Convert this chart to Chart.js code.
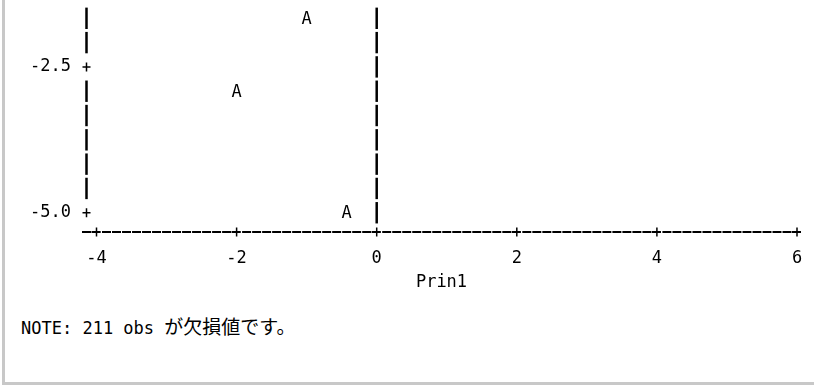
<!DOCTYPE html>
<html>
<head>
<meta charset="utf-8">
<script src="https://cdn.jsdelivr.net/npm/chart.js@4"></script>
<style>
  html, body { margin: 0; padding: 0; background: #fff; }
  #page { position: relative; width: 814px; height: 385px; overflow: hidden; }
  #plot { position: absolute; left: 0; top: 0; width: 814px; height: 300px; }
  #note {
    position: absolute; left: 21px; top: 317px;
    font: 17px/20px "DejaVu Sans Mono", "Noto Sans CJK JP", monospace;
    color: #000; white-space: pre;
  }
  #note .jp { font-size: 19px; }
  .edge { position: absolute; background: #c8c8c8; }
</style>
</head>
<body>
<div id="page">
  <div id="plot"><canvas id="chartPrin"></canvas></div>
  <div id="note">NOTE: 211 obs <span class="jp">が欠損値です。</span></div>
  <div class="edge" style="left:2px;top:0;width:3px;height:385px"></div>
  <div class="edge" style="left:2px;top:382px;width:812px;height:3px"></div>
</div>
<script>
// data
const prin1 = [-1.0, -2.0, -0.43];
const prin2 = [-1.67, -2.92, -5.0];
const plotSymbol = 'A';

const xTicks = [-4, -2, 0, 2, 4, 6];
const yTicks = [-2.5, -5.0];
const yTickLabels = ['-2.5', '-5.0'];
const xTitle = 'Prin1';
const refLineX = 0;

const ctx = document.getElementById('chartPrin');

Chart.defaults.font.family = '"DejaVu Sans Mono", "Noto Sans CJK JP", monospace';
Chart.defaults.font.size = 17;
Chart.defaults.color = '#000';

// draws the character-style axes: '|' rows, '-' columns and '+' ticks
const printerAxes = {
  id: 'printerAxes',
  afterDraw(chart) {
    const { ctx, chartArea: a, scales: { x, y } } = chart;
    const rowStep = (yTicks[0] - yTicks[1]) / 6;
    const rowH = y.getPixelForValue(yTicks[1]) - y.getPixelForValue(yTicks[1] + rowStep);
    const colW = (x.getPixelForValue(xTicks[1]) - x.getPixelForValue(xTicks[0])) / 14;
    const axisX = x.getPixelForValue(xTicks[0]) - colW;
    const x0 = x.getPixelForValue(refLineX);

    ctx.save();
    ctx.strokeStyle = '#000';
    ctx.setLineDash([]);

    const plus = (px, py) => {
      ctx.lineWidth = 1.5;
      ctx.beginPath();
      ctx.moveTo(px - 4, py); ctx.lineTo(px + 4, py);
      ctx.moveTo(px, py - 4.5); ctx.lineTo(px, py + 4.5);
      ctx.stroke();
    };
    const bar = (px, py) => {
      ctx.lineWidth = 2.5;
      ctx.beginPath();
      ctx.moveTo(px, py - rowH * 0.44); ctx.lineTo(px, py + rowH * 0.44);
      ctx.stroke();
    };

    // rows from the lowest tick up to the top of the plot
    for (let k = 0; k <= 8; k++) {
      const v = yTicks[1] + k * rowStep;
      const py = y.getPixelForValue(v);
      const isTick = yTicks.some(t => Math.abs(t - v) < 1e-6);
      if (isTick) plus(axisX, py); else bar(axisX, py);
      bar(x0, py);
    }

    // horizontal axis
    const hy = a.bottom;
    for (let j = -1; j <= 70; j++) {
      const px = x.getPixelForValue(xTicks[0]) + j * colW;
      if (px > a.right + 2) break;
      ctx.lineWidth = 2;
      ctx.beginPath();
      if (j >= 0 && j % 14 === 0) {
        ctx.moveTo(px - 5, hy); ctx.lineTo(px + 4, hy); ctx.stroke();
        plus(px, hy);
      } else {
        ctx.moveTo(px - 4.5, hy); ctx.lineTo(px + 4.5, hy); ctx.stroke();
      }
    }
    ctx.restore();
  }
};

// plot symbol at each point
const symbolPoints = {
  id: 'symbolPoints',
  afterDatasetsDraw(chart) {
    const { ctx } = chart;
    ctx.save();
    ctx.font = '17px "DejaVu Sans Mono", monospace';
    ctx.fillStyle = '#000';
    ctx.textAlign = 'center';
    ctx.textBaseline = 'middle';
    chart.getDatasetMeta(0).data.forEach(el => {
      ctx.fillText(plotSymbol, el.x, el.y + 1);
    });
    ctx.restore();
  }
};

new Chart(ctx, {
  type: 'scatter',
  data: {
    datasets: [{
      label: 'Prin2',
      data: prin1.map((v, i) => ({ x: v, y: prin2[i] })),
      pointRadius: 0,
      pointHoverRadius: 0,
      showLine: false
    }]
  },
  options: {
    responsive: true,
    maintainAspectRatio: false,
    animation: false,
    events: [],
    layout: { padding: { top: 8, right: 17, left: 0, bottom: 0 } },
    plugins: {
      legend: { display: false },
      tooltip: { enabled: false }
    },
    scales: {
      x: {
        type: 'linear',
        min: -4.15,
        max: 6,
        afterBuildTicks: s => { s.ticks = xTicks.map(v => ({ value: v })); },
        afterFit: s => { s.height = 68; s.paddingLeft = 0; s.paddingRight = 0; },
        ticks: { padding: 16, maxRotation: 0, autoSkip: false, callback: v => String(v) },
        grid: { display: false, drawTicks: false },
        border: { display: false },
        title: { display: true, text: xTitle, padding: { top: 4, bottom: 7 } }
      },
      y: {
        type: 'linear',
        min: -5.33,
        max: -1.49,
        afterBuildTicks: s => { s.ticks = yTicks.map(v => ({ value: v })); },
        afterFit: s => { s.width = 86; s.paddingTop = 0; s.paddingBottom = 0; },
        ticks: { padding: 15, autoSkip: false, callback: v => yTickLabels[yTicks.indexOf(v)] },
        grid: { display: false, drawTicks: false },
        border: { display: false }
      }
    }
  },
  plugins: [printerAxes, symbolPoints]
});
</script>
</body>
</html>
